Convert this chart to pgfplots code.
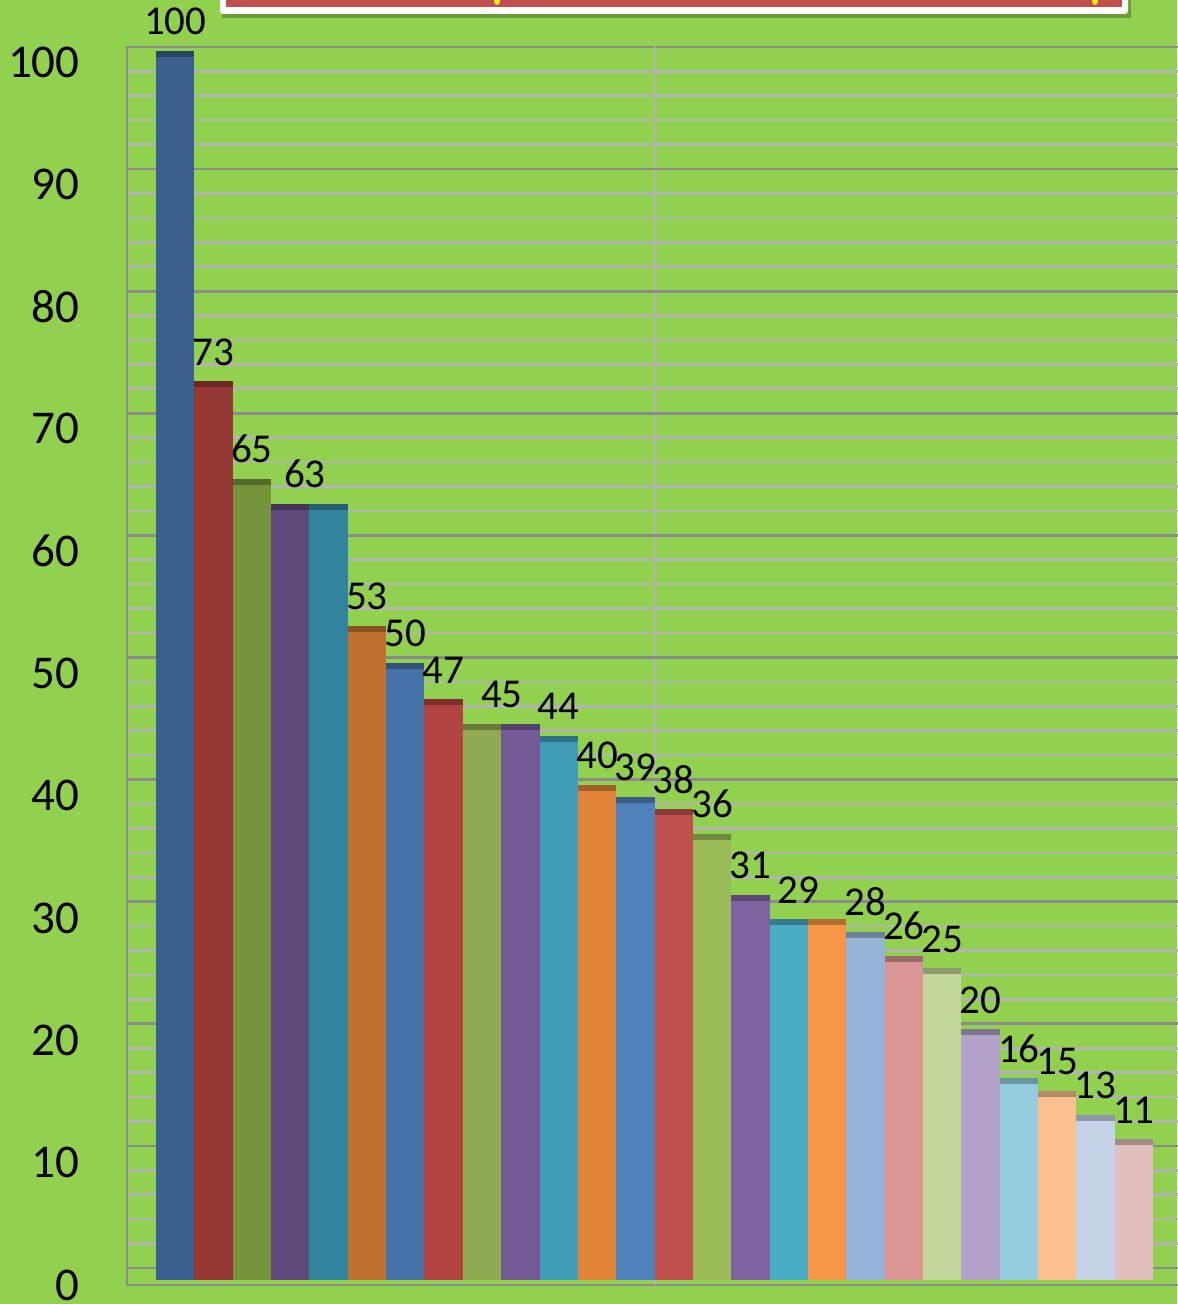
\documentclass[border=0pt]{standalone}
\usepackage{pgfplots}
\pgfplotsset{compat=1.18}
\usepackage{fontspec}
\setmainfont{Carlito}
\definecolor{bg}{HTML}{92D050}
\definecolor{gminor}{HTML}{B2B2B2}
\definecolor{gmajor}{HTML}{8A8A8A}
\definecolor{frame}{HTML}{8C8C8C}
\definecolor{c1}{HTML}{3B5F8F}
\definecolor{c2}{HTML}{953735}
\definecolor{c3}{HTML}{77933C}
\definecolor{c4}{HTML}{604A7B}
\definecolor{c5}{HTML}{31849B}
\definecolor{c6}{HTML}{C0712F}
\definecolor{c7}{HTML}{4672A8}
\definecolor{c8}{HTML}{B14340}
\definecolor{c9}{HTML}{8FAA50}
\definecolor{c10}{HTML}{735A94}
\definecolor{c11}{HTML}{409EB8}
\definecolor{c12}{HTML}{E0843A}
\definecolor{c13}{HTML}{4F81BD}
\definecolor{c14}{HTML}{C0504D}
\definecolor{c15}{HTML}{9BBB59}
\definecolor{c16}{HTML}{8064A2}
\definecolor{c17}{HTML}{4BACC6}
\definecolor{c18}{HTML}{F79646}
\definecolor{c19}{HTML}{95B3D7}
\definecolor{c20}{HTML}{D99694}
\definecolor{c21}{HTML}{C3D69B}
\definecolor{c22}{HTML}{B2A2C7}
\definecolor{c23}{HTML}{93CDDD}
\definecolor{c24}{HTML}{FAC090}
\definecolor{c25}{HTML}{C6D2E8}
\definecolor{c26}{HTML}{E3BEBE}
\definecolor{boxred}{HTML}{C0504D}
\pgfplotsset{
  /pgf/number format/assume math mode=true,
  bar/.style={ybar, bar width=1, bar shift=0pt, fill=#1, draw=none,
    mark=-, mark size=9.59pt,
    mark options={draw=#1!72!black, line width=3pt, yshift=1.5pt}},
}
\begin{document}
\begin{tikzpicture}
\fill[bg] (0,0) rectangle (588.5pt,652pt);
\begin{axis}[
  at={(63.5pt,9.5pt)}, anchor=south west,
  scale only axis, width=536.5pt, height=619pt,
  xmin=-1.257, xmax=26.723, ymin=-0.409, ymax=100.82,
  axis line style={frame, line width=1.2pt},
  xtick=\empty,
  ytick={0,10,...,100},
  major tick length=0pt, minor tick length=0pt,
  yticklabel style={font=\fontsize{23.5}{24}\selectfont, anchor=east, inner sep=0pt, xshift=-23.5pt, yshift=-2.5pt},
  minor ytick={0.98,2.977,...,99},
  yminorgrids=true,
  minor grid style={gminor, line width=1.3pt},
  extra y ticks={0.98,10.96,20.95,30.93,40.92,50.9,60.88,70.87,80.85,90.84},
  extra y tick labels={},
  extra y tick style={grid=major, major grid style={gmajor, line width=1.3pt}},
  extra x ticks={12.51},
  extra x tick labels={},
  extra x tick style={grid=major, major grid style={gminor, line width=1pt}},
  clip=false,
]
\addplot[bar=c1] coordinates {(0,100)};
\addplot[bar=c2] coordinates {(1,73)};
\addplot[bar=c3] coordinates {(2,65)};
\addplot[bar=c4] coordinates {(3,63)};
\addplot[bar=c5] coordinates {(4,63)};
\addplot[bar=c6] coordinates {(5,53)};
\addplot[bar=c7] coordinates {(6,50)};
\addplot[bar=c8] coordinates {(7,47)};
\addplot[bar=c9] coordinates {(8,45)};
\addplot[bar=c10] coordinates {(9,45)};
\addplot[bar=c11] coordinates {(10,44)};
\addplot[bar=c12] coordinates {(11,40)};
\addplot[bar=c13] coordinates {(12,39)};
\addplot[bar=c14] coordinates {(13,38)};
\addplot[bar=c15] coordinates {(14,36)};
\addplot[bar=c16] coordinates {(15,31)};
\addplot[bar=c17] coordinates {(16,29)};
\addplot[bar=c18] coordinates {(17,29)};
\addplot[bar=c19] coordinates {(18,28)};
\addplot[bar=c20] coordinates {(19,26)};
\addplot[bar=c21] coordinates {(20,25)};
\addplot[bar=c22] coordinates {(21,20)};
\addplot[bar=c23] coordinates {(22,16)};
\addplot[bar=c24] coordinates {(23,15)};
\addplot[bar=c25] coordinates {(24,13)};
\addplot[bar=c26] coordinates {(25,11)};
% data labels
\addplot[only marks, mark=none, point meta=y,
  nodes near coords,
  every node near coord/.append style={anchor=south, inner sep=0pt, yshift=10.75pt,
    font=\fontsize{20.5}{21}\selectfont, text=black}]
coordinates {
(0,100) (1,73) (2,65) (3.38,63) (5,53) (6,50) (7,47) (8.52,45) (10,44)
(11,40) (12,39) (13,38) (14,36) (15,31) (16.24,29) (18,28) (19,26)
(20,25) (21,20) (22,16) (23,15) (24,13) (25,11)
};
\end{axis}
% cut-off title box at the top
\fill[black, opacity=0.25] (111pt,643pt) rectangle (565.5pt,660pt);
\fill[white, rounded corners=1.5pt] (110pt,645pt) rectangle (564pt,660pt);
\fill[boxred] (113pt,648.5pt) rectangle (561pt,660pt);
\fill[yellow] (248.5pt,651.5pt) ellipse (1.5pt and 2pt);
\fill[yellow] (547.5pt,651.5pt) ellipse (1.5pt and 2pt);
\pgfresetboundingbox
\useasboundingbox (0,0) rectangle (588.5pt,652pt);
\end{tikzpicture}
\end{document}
